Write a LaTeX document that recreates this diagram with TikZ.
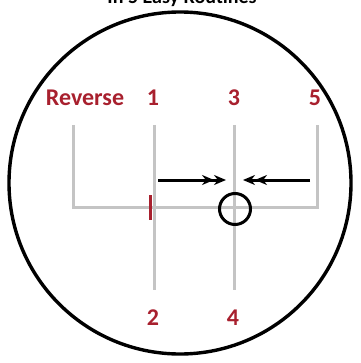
\documentclass[tikz,border=0pt]{standalone}
\usepackage{fontspec}
\setmainfont{Carlito}
\usepackage{tikz}
\usetikzlibrary{arrows.meta,positioning}
\definecolor{Gate}{HTML}{C4C4C4}
\definecolor{Wine}{HTML}{A8202E}
\tikzset{
  ring/.style={draw=black, line width=3.4pt},
  gate/.style={draw=Gate, line width=3pt},
  gearlbl/.style={text=Wine, font=\fontsize{24}{24}\selectfont\bfseries, inner sep=0pt},
  headline/.style={text=black, font=\fontsize{20}{20}\selectfont\bfseries, inner sep=0pt, anchor=base},
  selector/.style={circle, draw=black, line width=3pt, minimum size=31pt, inner sep=0pt},
  pin/.style={draw=Wine, line width=3pt},
  push/.style={-{Stealth[length=12pt,width=10pt]Stealth[length=12pt,width=10pt]}, line width=3pt, draw=black}
}

\begin{document}
\begin{tikzpicture}[x=1pt,y=-1pt]
\useasboundingbox (0,0) rectangle (360,363);
\node[headline] (title) at (182,4) {In 5 Easy Routines};
\draw[ring] (180,183) circle (171);
% shift gate
\coordinate (rtop) at (73,125);
\coordinate (rbot) at (73,207);
\coordinate (ftop) at (317,125);
\coordinate (fbot) at (317,207);
\draw[gate] (rtop) -- (rbot) -- (fbot) -- (ftop);
\foreach \n/\x in {a/154,b/234} {
  \coordinate (\n top) at (\x,125);
  \coordinate (\n bot) at (\x,290);
  \draw[gate] (\n top) -- (\n bot);
}
% gear labels
\node[gearlbl] (rev) at (85,98) {Reverse};
\node[gearlbl] (g1) at (153,98) {1};
\node[gearlbl] (g3) at (234,98) {3};
\node[gearlbl] (g5) at (315,98) {5};
\node[gearlbl] (g2) at (153,318) {2};
\node[gearlbl] (g4) at (233,318) {4};
% neutral position
\coordinate (ptop) at (150,195);
\coordinate (pbot) at (150,220);
\draw[pin] (ptop) -- (pbot);
\node[selector] (sel) at (235,209) {};
\coordinate (la) at (158,180);
\coordinate (lb) at (226,180);
\coordinate (ra) at (310,180);
\coordinate (rb) at (243,180);
\draw[push] (la) -- (lb);
\draw[push] (ra) -- (rb);
\end{tikzpicture}
\end{document}
